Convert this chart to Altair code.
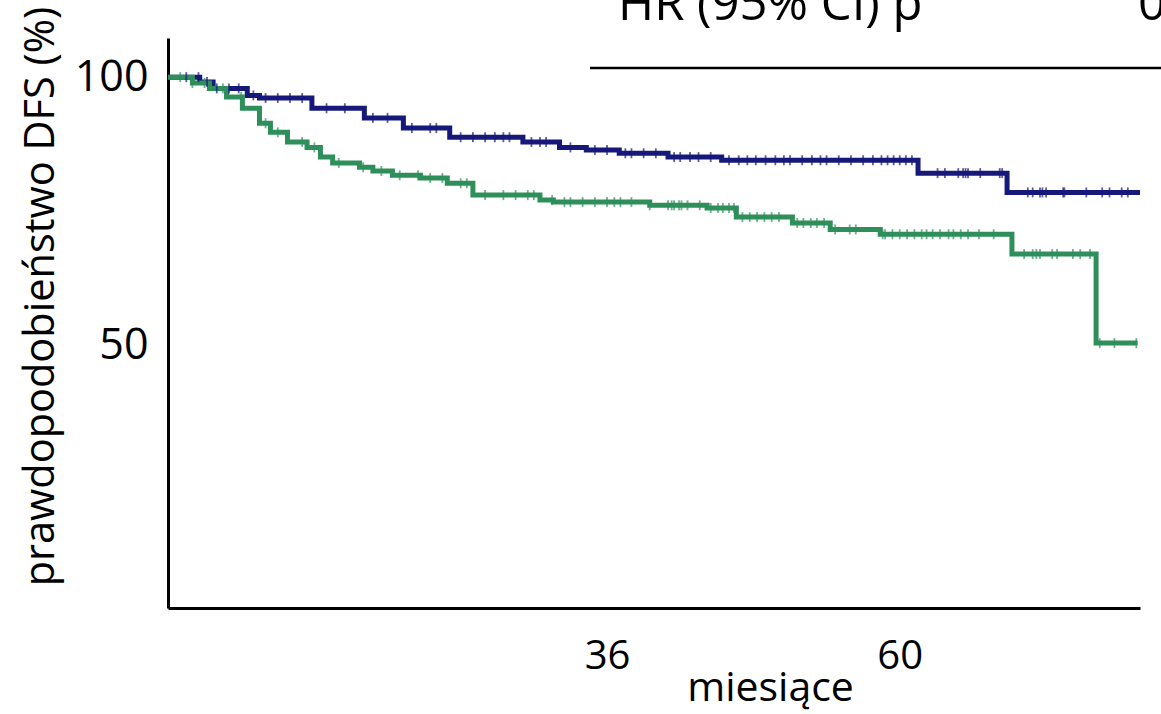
import altair as alt
import numpy as np
import pandas as pd

# Kaplan-Meier step points (months, DFS %)
blue_t = [0, 2.6, 3.7, 6.5, 7.5, 11.8, 16.1, 19.3, 23.1, 29.1, 32.1, 34.3, 37.0, 41.0, 45.4, 61.5, 68.8, 79.7]
blue_v = [100, 99.1, 97.9, 96.6, 96.1, 94.2, 92.4, 90.5, 88.8, 87.9, 86.9, 86.4, 85.8, 85.1, 84.5, 82.1, 78.5, 78.5]

green_t = [0, 2.0, 3.4, 4.8, 6.1, 7.5, 8.4, 9.8, 11.4, 12.5, 13.5, 15.7, 16.8, 18.4, 20.7, 22.9, 25.0,
           30.5, 31.6, 39.5, 44.2, 46.6, 51.2, 54.3, 58.4, 69.2, 76.1, 79.5]
green_v = [100, 98.9, 97.9, 96.3, 94.2, 91.4, 89.7, 87.9, 86.9, 85.1, 84.0, 83.2, 82.5, 81.7, 81.2, 80.2, 78.0,
           77.1, 76.7, 76.1, 75.6, 73.9, 72.8, 71.6, 70.7, 67.0, 50.4, 50.4]

# censoring times (months)
blue_cens = [1.5, 2.5, 3.2, 4.0, 5.0, 5.8, 7.0, 8.0, 9.0, 10.0, 11.0, 13.0, 14.5, 16.8, 18.0, 20.0, 21.5, 22.0,
             24.0, 25.0, 26.0, 26.8, 27.5, 28.0, 29.8, 30.5, 31.0, 33.0, 35.0, 36.0, 37.5, 38.0, 39.0, 40.0,
             41.5, 42.0, 42.8, 43.5, 44.5, 46.0, 46.8, 47.5, 48.2, 49.0, 49.8, 50.5, 51.0, 52.0, 52.8, 53.5,
             54.0, 55.0, 56.0, 57.0, 57.8, 58.5, 59.0, 59.5, 60.0, 60.5, 61.0, 63.1, 63.7, 64.8, 65.2, 65.4,
             65.6, 66.6, 68.2, 68.4, 70.5, 70.9, 71.5, 71.7, 72.0, 73.4, 73.5, 75.3, 76.6, 77.2, 78.2, 78.7]
green_cens = [1.0, 2.0, 3.0, 4.5, 6.0, 8.0, 9.0, 11.0, 12.0, 14.0, 16.0, 17.5, 19.0, 20.5, 21.5, 22.5, 24.0,
              24.5, 26.0, 27.5, 28.5, 29.5, 30.0, 31.5, 32.5, 33.0, 34.0, 35.0, 36.0, 36.6, 37.1, 38.0, 39.5,
              41.0, 41.3, 41.5, 41.9, 42.1, 42.6, 43.6, 44.5, 45.1, 45.5, 46.0, 46.4, 47.1, 47.7, 48.3, 48.9,
              49.5, 50.1, 51.6, 52.1, 52.7, 53.2, 53.8, 54.7, 55.9, 56.4, 58.6, 58.8, 59.4, 60.0, 60.6, 61.2,
              61.8, 62.2, 62.7, 63.3, 64.0, 64.4, 65.0, 65.6, 66.5, 67.7, 70.2, 70.9, 71.2, 71.5, 72.5, 72.9,
              74.2, 74.8, 75.6, 76.4, 77.6, 79.4]

group_names = ["A", "B"]
colors = ["#16187a", "#2e8f5b"]

y_ticks = [100, 50]
x_ticks = [36, 60]
y_title = "prawdopodobieństwo DFS (%)"
x_title = "miesiące"
hr_text = "HR (95% CI) p"

FONT = "Open Sans"


def step_value(ts, vs, t):
    i = np.searchsorted(np.array(ts), t, side="right") - 1
    return vs[max(i, 0)]


curves = pd.concat([
    pd.DataFrame({"t": blue_t, "v": blue_v, "g": group_names[0]}),
    pd.DataFrame({"t": green_t, "v": green_v, "g": group_names[1]}),
])
cens = pd.concat([
    pd.DataFrame({"t": blue_cens, "v": [step_value(blue_t, blue_v, c) for c in blue_cens], "g": group_names[0]}),
    pd.DataFrame({"t": green_cens, "v": [step_value(green_t, green_v, c) for c in green_cens], "g": group_names[1]}),
])

xs = alt.Scale(domain=[0, 79.7], nice=False, zero=False)
ys = alt.Scale(domain=[1, 107.3], nice=False, zero=False)
cs = alt.Scale(domain=group_names, range=colors)

x_axis = alt.Axis(values=x_ticks, ticks=False, grid=False, domainColor="black", domainWidth=3,
                  labelFont=FONT, labelFontSize=40, labelColor="black", labelPadding=28,
                  title=x_title, titleFont=FONT, titleFontSize=41, titleFontWeight="normal",
                  titleColor="black", titleX=602, titleY=92, titleBaseline="alphabetic")
y_axis = alt.Axis(values=y_ticks, ticks=False, grid=False, domainColor="black", domainWidth=3,
                  labelFont=FONT, labelFontSize=43, labelColor="black", labelPadding=20,
                  title=y_title, titleFont=FONT, titleFontSize=41.5, titleFontWeight="normal",
                  titleColor="black", titleX=-106, titleY=258, titleBaseline="bottom")

lines = alt.Chart(curves).mark_line(interpolate="step-after", strokeWidth=5).encode(
    x=alt.X("t:Q", scale=xs, axis=x_axis),
    y=alt.Y("v:Q", scale=ys, axis=y_axis),
    color=alt.Color("g:N", scale=cs, legend=None),
    detail="g:N",
)

ticks = alt.Chart(cens).mark_tick(orient="vertical", size=10, thickness=1.8).encode(
    x=alt.X("t:Q", scale=xs),
    y=alt.Y("v:Q", scale=ys),
    color=alt.Color("g:N", scale=cs, legend=None),
)

hr = alt.Chart(pd.DataFrame({"txt": [hr_text]})).mark_text(
    font=FONT, fontSize=49, align="left", baseline="alphabetic", color="black"
).encode(x=alt.value(450), y=alt.value(-18), text="txt:N")

zero_txt = alt.Chart(pd.DataFrame({"txt": ["0"]})).mark_text(
    font=FONT, fontSize=49, align="left", baseline="alphabetic", color="black"
).encode(x=alt.value(970), y=alt.value(-18), text="txt:N")

rule = alt.Chart(pd.DataFrame({"a": [0]})).mark_rule(color="black", strokeWidth=2.5).encode(
    x=alt.value(422), x2=alt.value(1000), y=alt.value(30)
)

chart = alt.layer(lines, ticks, rule, hr, zero_txt).properties(
    width=972, height=570,
    background="white",
    autosize=alt.AutoSizeParams(type="none"),
    padding={"left": 168, "top": 38, "right": 21, "bottom": 106},
).configure_view(strokeWidth=0, stroke="transparent")

chart.save("out.html", embed_options={"renderer": "svg", "actions": False})
